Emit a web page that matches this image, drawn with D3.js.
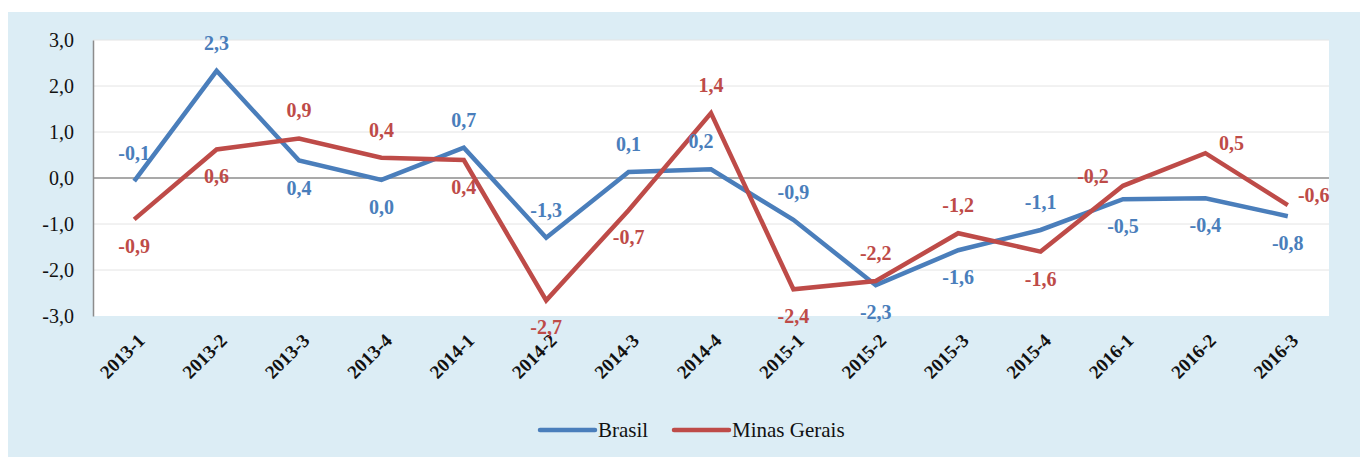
<!DOCTYPE html>
<html><head><meta charset="utf-8">
<script src="https://cdn.jsdelivr.net/npm/d3@7"></script>
<style>
html,body{margin:0;padding:0;background:#fff;}
svg{display:block;}
</style>
</head><body>
<svg id="c" width="1360" height="457"></svg>
<script>
const categories = ["2013-1","2013-2","2013-3","2013-4","2014-1","2014-2","2014-3","2014-4","2015-1","2015-2","2015-3","2015-4","2016-1","2016-2","2016-3"];
const brasil = [-0.07, 2.33, 0.38, -0.04, 0.66, -1.30, 0.13, 0.19, -0.91, -2.33, -1.57, -1.13, -0.46, -0.44, -0.83];
const minas = [-0.90, 0.62, 0.86, 0.44, 0.39, -2.66, -0.70, 1.41, -2.42, -2.24, -1.20, -1.60, -0.17, 0.54, -0.59];
const brasilLabelPos = ["t","t","b","b","t","t","t","tl","t","b","b","t","b","b","b"];
const minasLabelPos = ["b","b","t","t","b","b","b","t","b","t","t","b","l","r","r"];
const yTicks = [-3,-2,-1,0,1,2,3];
const seriesNames = ["Brasil","Minas Gerais"];

const FONT = '"Liberation Serif"';
const svg = d3.select("#c");
const W = 1360, H = 457;
const m = {left: 93, right: 1329, top: 40, bottom: 316};
const blue = "#4a7ebb", red = "#be4b48";
const loc = d3.formatLocale({decimal: ",", thousands: ".", grouping: [3], currency: ["", ""], minus: "-"});
const f1 = loc.format(".1f");
const fmt = v => { let s = f1(v); if (s === "-0,0") s = "0,0"; return s; };

svg.append("rect").attr("x", 8).attr("y", 12).attr("width", W - 8).attr("height", H - 12).attr("fill", "#dcedf5");
svg.append("rect").attr("x", m.left).attr("y", m.top).attr("width", m.right - m.left).attr("height", m.bottom - m.top).attr("fill", "#ffffff");

const x = d3.scaleBand().domain(categories).range([m.left, m.right]).padding(0);
const cx = c => x(c) + x.bandwidth() / 2;
const y = d3.scaleLinear().domain([-3, 3]).range([m.bottom, m.top]);

svg.append("g").selectAll("line").data(yTicks.filter(t => t !== 0 && t !== -3)).join("line")
  .attr("x1", m.left).attr("x2", m.right).attr("y1", d => y(d)).attr("y2", d => y(d))
  .attr("stroke", "#e4e4e4").attr("stroke-width", 1);

const yAxis = d3.axisLeft(y).tickValues(yTicks).tickSize(0).tickPadding(19).tickFormat(d => f1(d));
const gy = svg.append("g").attr("transform", `translate(${m.left},0)`).call(yAxis);
gy.attr("font-family", null).attr("font-size", null);
gy.select(".domain").attr("stroke", "#8c8c8c").attr("stroke-width", 1.5);
gy.selectAll("text").style("font-family", FONT).style("font-size", "20px").attr("fill", "#111");

svg.append("line").attr("x1", m.left).attr("x2", m.right).attr("y1", y(0)).attr("y2", y(0)).attr("stroke", "#8c8c8c").attr("stroke-width", 1.5);

const xAxis = d3.axisBottom(x).tickSize(0).tickPadding(0);
const gx = svg.append("g").attr("transform", `translate(0,${m.bottom})`).call(xAxis);
gx.attr("font-family", null).attr("font-size", null);
gx.select(".domain").remove();
gx.selectAll("text")
  .style("font-family", FONT).style("font-size", "19px").style("font-weight", "bold").attr("fill", "#111")
  .attr("text-anchor", "end").attr("dy", "0.35em")
  .attr("transform", "translate(7,21) rotate(-45)");

const line = d3.line().x((d, i) => cx(categories[i])).y(d => y(d));
svg.append("path").datum(brasil).attr("d", line).attr("fill", "none").attr("stroke", blue).attr("stroke-width", 4.5);
svg.append("path").datum(minas).attr("d", line).attr("fill", "none").attr("stroke", red).attr("stroke-width", 4.5);

function labels(data, pos, color) {
  svg.append("g").selectAll("text").data(data).join("text")
    .attr("x", (d, i) => {
      const p = pos[i]; const base = cx(categories[i]);
      if (p === "l") return base - 30;
      if (p === "r") return base + 26;
      if (p === "tl") return base - 10;
      return base;
    })
    .attr("y", (d, i) => {
      const p = pos[i]; const base = y(d);
      if (p === "t" || p === "tl") return base - 28;
      if (p === "b") return base + 27;
      return base - 10;
    })
    .attr("dy", "0.35em").attr("text-anchor", "middle")
    .style("font-family", FONT).style("font-size", "20px").style("font-weight", "bold")
    .attr("fill", color).text(d => fmt(d));
}
labels(brasil, brasilLabelPos, blue);
labels(minas, minasLabelPos, red);

const lg = svg.append("g");
const items = [{name: seriesNames[0], color: blue, x: 540}, {name: seriesNames[1], color: red, x: 674}];
items.forEach(it => {
  lg.append("line").attr("x1", it.x).attr("x2", it.x + 55).attr("y1", 430).attr("y2", 430).attr("stroke", it.color).attr("stroke-width", 4.5).attr("stroke-linecap", "round");
  lg.append("text").attr("x", it.x + 58).attr("y", 430).attr("dy", "0.35em")
    .style("font-family", FONT).style("font-size", "21px").attr("fill", "#111").text(it.name);
});
</script>
</body></html>
